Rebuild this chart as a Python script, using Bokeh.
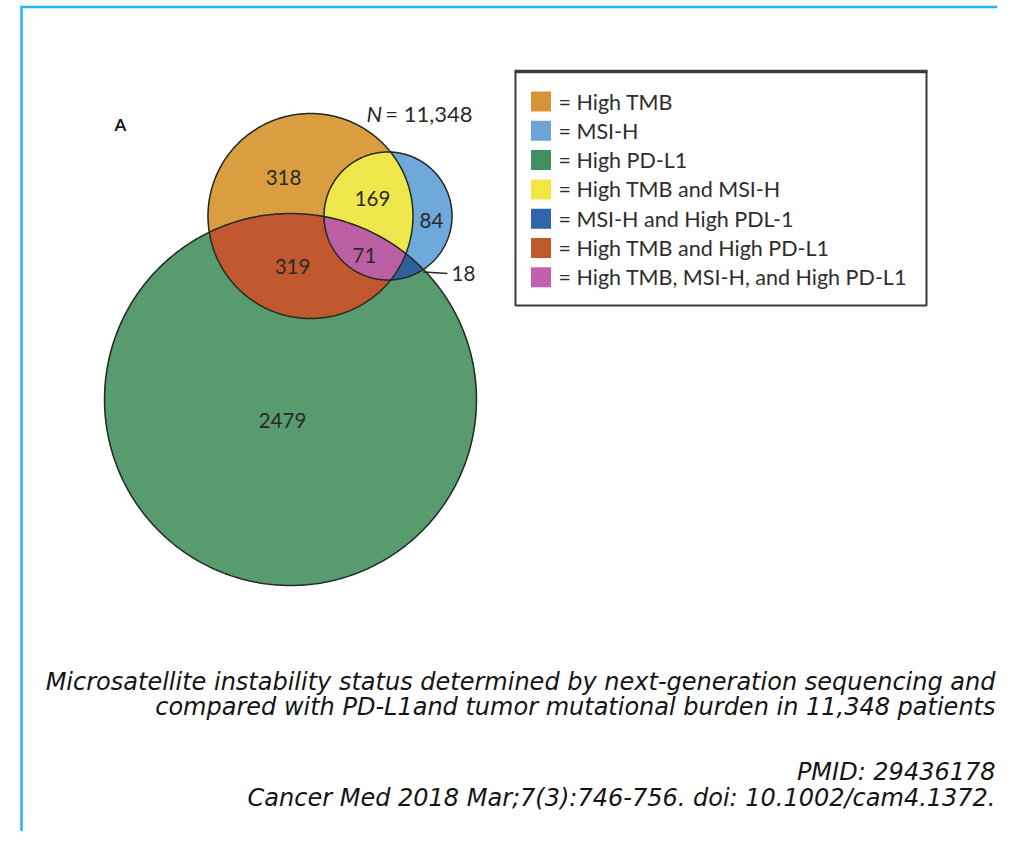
import numpy as np
from bokeh.plotting import figure
from bokeh.models import Range1d
from bokeh.core.properties import value
from bokeh.embed import file_html
from bokeh.resources import INLINE

# ---------------- data ----------------
set_names = ["High TMB", "MSI-H", "High PD-L1"]
# exclusive region counts
only_tmb = 318
only_msi = 84
only_pdl1 = 2479
tmb_msi = 169
msi_pdl1 = 18
tmb_pdl1 = 319
all_three = 71
total_n = "11,348"

legend_labels = [
    "= High TMB",
    "= MSI-H",
    "= High PD-L1",
    "= High TMB and MSI-H",
    "= MSI-H and High PDL-1",
    "= High TMB and High PD-L1",
    "= High TMB, MSI-H, and High PD-L1",
]
legend_colors = ["#D6943A", "#6CA4D8", "#43905E", "#F2E644", "#2F63AA", "#BF5A2B", "#C060AE"]

caption_lines = [
    "Microsatellite instability status determined by next-generation sequencing and",
    "compared with PD-L1and tumor mutational burden in 11,348 patients",
]
ref_lines = [
    "PMID: 29436178",
    "Cancer Med 2018 Mar;7(3):746-756. doi: 10.1002/cam4.1372.",
]

# set totals (circle areas proportional to totals)
tot_tmb = only_tmb + tmb_msi + tmb_pdl1 + all_three
tot_msi = only_msi + tmb_msi + msi_pdl1 + all_three
tot_pdl1 = only_pdl1 + tmb_pdl1 + msi_pdl1 + all_three

# ---------------- layout ----------------
W, H = 997, 831
K = 3.461  # px per sqrt(count)
r_tmb, r_msi, r_pdl1 = (K * np.sqrt(t) for t in (tot_tmb, tot_msi, tot_pdl1))
c_tmb = (310.0, 215.5)
c_msi = (387.5, 215.5)
c_pdl1 = (290.0, 399.0)

col_tmb, col_msi, col_pdl1 = "#DA9E40", "#6FA8DA", "#589B6F"
col_tmb_msi, col_msi_pdl1, col_tmb_pdl1, col_all = "#EFE64C", "#2F5E98", "#C15830", "#BC5FA4"


def circle_poly(c, r, n=720):
    t = np.linspace(0, 2 * np.pi, n, endpoint=False)
    return list(zip(c[0] + r * np.cos(t), c[1] + r * np.sin(t)))


def clip(subject, clipper):
    def inside(p, a, b):
        return (b[0] - a[0]) * (p[1] - a[1]) - (b[1] - a[1]) * (p[0] - a[0]) >= 0

    def inter(p, q, a, b):
        x1, y1 = p; x2, y2 = q; x3, y3 = a; x4, y4 = b
        den = (x1 - x2) * (y3 - y4) - (y1 - y2) * (x3 - x4)
        t = ((x1 - x3) * (y3 - y4) - (y1 - y3) * (x3 - x4)) / den
        return (x1 + t * (x2 - x1), y1 + t * (y2 - y1))

    out = subject
    for i in range(len(clipper)):
        a = clipper[i]; b = clipper[(i + 1) % len(clipper)]
        inp = out; out = []
        if not inp:
            break
        s = inp[-1]
        for e in inp:
            if inside(e, a, b):
                if not inside(s, a, b):
                    out.append(inter(s, e, a, b))
                out.append(e)
            elif inside(s, a, b):
                out.append(inter(s, e, a, b))
            s = e
    return out


P_tmb = circle_poly(c_tmb, r_tmb)
P_msi = circle_poly(c_msi, r_msi)
P_pdl1 = circle_poly(c_pdl1, r_pdl1)
L_tmb_msi = clip(P_tmb, P_msi)
L_msi_pdl1 = clip(P_msi, P_pdl1)
L_tmb_pdl1 = clip(P_tmb, P_pdl1)
L_all = clip(L_tmb_msi, P_pdl1)

p = figure(width=W, height=H, output_backend="svg", toolbar_location=None,
           x_range=Range1d(0, W), y_range=Range1d(H, 0),
           x_axis_type=None, y_axis_type=None, min_border=0,
           outline_line_color=None, background_fill_color="white",
           border_fill_color="white")
p.grid.visible = False

# cyan frame
frame_col = "#22B3F2"
p.segment(x0=[20], y0=[6.5], x1=[W], y1=[6.5], line_color=frame_col, line_width=2.5)
p.segment(x0=[21], y0=[6], x1=[21], y1=[H], line_color=frame_col, line_width=2.5)

# venn fills
polys = [P_pdl1, P_tmb, P_msi, L_tmb_msi, L_msi_pdl1, L_tmb_pdl1, L_all]
cols = [col_pdl1, col_tmb, col_msi, col_tmb_msi, col_msi_pdl1, col_tmb_pdl1, col_all]
p.patches(xs=[[q[0] for q in poly] for poly in polys],
          ys=[[q[1] for q in poly] for poly in polys],
          fill_color=cols, line_color=cols, line_width=0.6)
# outlines
outl = [P_pdl1, P_tmb, P_msi]
p.patches(xs=[[q[0] for q in poly] for poly in outl],
          ys=[[q[1] for q in poly] for poly in outl],
          fill_color=None, line_color="#1E2A22", line_width=1.5)

# region labels
num_font = value("Lato")
lab_x = [283, 431, 282, 372, 364, 292]
lab_y = [177, 220, 420, 198, 255, 266]
lab_t = [str(v) for v in (only_tmb, only_msi, only_pdl1, tmb_msi, all_three, tmb_pdl1)]
p.text(x=lab_x, y=lab_y, text=lab_t, text_font=num_font, text_font_size="20.5px",
       text_align="center", text_baseline="middle", text_color="#2a2a2a")
# 18 with leader
p.segment(x0=[423], y0=[271.5], x1=[447], y1=[273], line_color="#2a2a2a", line_width=1.3)
p.text(x=[451], y=[273], text=[str(msi_pdl1)], text_font=num_font, text_font_size="20.5px",
       text_align="left", text_baseline="middle", text_color="#2a2a2a")

# N = ...
p.text(x=[366], y=[113], text=["N"], text_font=num_font, text_font_size="22px",
       text_font_style="italic", text_align="left", text_baseline="middle", text_color="#2a2a2a")
p.text(x=[472], y=[113], text=["= " + total_n], text_font=num_font, text_font_size="22px",
       text_align="right", text_baseline="middle", text_color="#2a2a2a")
# panel letter
p.text(x=[114], y=[124], text=["A"], text_font=num_font, text_font_size="17px",
       text_font_style="bold", text_align="left", text_baseline="middle", text_color="#1a1a1a")

# legend box
p.quad(left=[515], right=[926], top=[71], bottom=[305], fill_color="white",
       line_color="#3c3c3c", line_width=2)
p.segment(x0=[514], y0=[71], x1=[927], y1=[71], line_color="#3c3c3c", line_width=3.5)
n = len(legend_labels)
ly = [101 + i * 29.3 for i in range(n)]
p.rect(x=[540.5] * n, y=ly, width=20, height=20, fill_color=legend_colors, line_color=None)
p.text(x=[558] * n, y=ly, text=legend_labels, text_font=num_font, text_font_size="21.5px",
       text_align="left", text_baseline="middle", text_color="#2e2e2e")

# caption
cap_font = value("DejaVu Sans")
p.text(x=[995, 995], y=[681, 706], text=caption_lines, text_font=cap_font,
       text_font_size="24px", text_font_style="italic", text_align="right",
       text_baseline="alphabetic", text_color="#151515")
p.text(x=[995, 995], y=[771, 797], text=ref_lines, text_font=cap_font,
       text_font_size="24px", text_font_style="italic", text_align="right",
       text_baseline="alphabetic", text_color="#151515")

open("out.html", "w").write(file_html(p, INLINE))
